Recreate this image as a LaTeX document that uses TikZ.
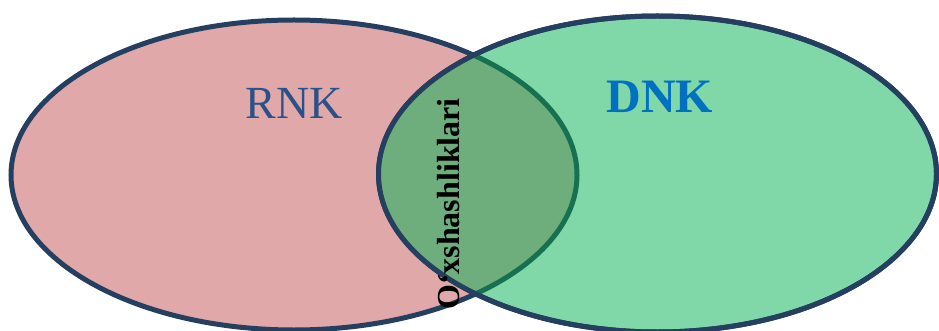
\documentclass[tikz,border=0pt]{standalone}
\usepackage{fontspec}
\setmainfont{Liberation Serif}
\definecolor{navy}{HTML}{243F60}
\definecolor{pinkfill}{HTML}{E0A8A8}
\definecolor{greenfill}{HTML}{80D7A8}
\definecolor{overlapfill}{HTML}{6DAE7C}
\definecolor{darkarc}{HTML}{17704F}
\definecolor{rnkblue}{HTML}{2A5288}
\definecolor{dnkblue}{HTML}{0070C0}
\begin{document}
\begin{tikzpicture}[x=1pt,y=-1pt,
  outline/.style={line width=5pt},
  lbl/.style={inner sep=0pt}]
\useasboundingbox (0,0) rectangle (939,331);
\def\leftell{(294,175) ellipse [x radius=283pt, y radius=155pt]}
\def\rightell{(657.5,174) ellipse [x radius=279pt, y radius=158pt]}
\draw[outline, draw=navy, fill=pinkfill] \leftell;
\draw[outline, draw=navy, fill=greenfill] \rightell;
\begin{scope}
  \clip \rightell;
  \fill[overlapfill] \leftell;
  \draw[outline, draw=darkarc] \leftell;
\end{scope}
\draw[outline, draw=navy] \rightell;
\node[lbl, anchor=base, text=rnkblue, font=\fontsize{46}{50}\selectfont] (rnk) at (294,119) {RNK};
\node[lbl, anchor=base, text=dnkblue, font=\bfseries\fontsize{48}{52}\selectfont] (dnk) at (660,113) {DNK};
\node[lbl, rotate=90, anchor=base west, font=\bfseries\fontsize{32}{36}\selectfont] (sim) at (459,310) {O‘xshashliklari};
\end{tikzpicture}
\end{document}
